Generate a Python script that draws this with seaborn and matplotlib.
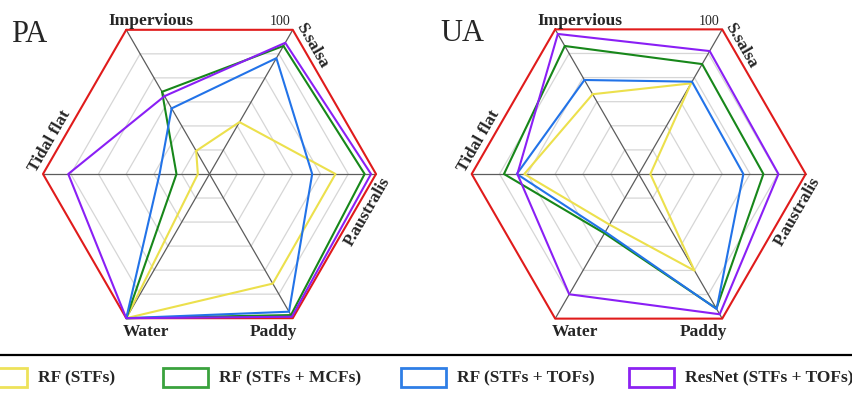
import numpy as np
import pandas as pd
import seaborn as sns
import matplotlib.pyplot as plt
from matplotlib.patches import Rectangle

sns.set_style("white")
plt.rcParams["font.family"] = ["Liberation Serif", "DejaVu Serif"]

# ---- data -------------------------------------------------------------
categories = ["Impervious", "S.salsa", "P.australis", "Paddy", "Water", "Tidal flat"]
series_names = ["RF (STFs)", "RF (STFs + MCFs)", "RF (STFs + TOFs)", "ResNet (STFs + TOFs)"]

# producer's accuracy (%)
pa_rf_stfs = [49.6, 61.6, 85.4, 85.6, 100.0, 44.2]
pa_rf_mcfs = [74.2, 93.3, 95.9, 98.7, 100.0, 51.9]
pa_rf_tofs = [67.3, 88.2, 77.0, 97.3, 100.0, 58.0]
pa_resnet = [72.4, 94.6, 98.2, 99.4, 100.0, 90.9]

# user's accuracy (%)
ua_rf_stfs = [73.1, 77.6, 44.2, 80.1, 61.0, 81.1]
ua_rf_mcfs = [93.1, 85.6, 84.8, 95.8, 64.6, 88.4]
ua_rf_tofs = [79.0, 78.3, 77.6, 96.0, 64.0, 83.8]
ua_resnet = [98.1, 91.0, 90.2, 98.2, 89.9, 83.6]

# ---- styling ----------------------------------------------------------
axis_angles = np.deg2rad([120, 60, 0, -60, -120, 180])
r_min, r_max, n_rings = 40, 100, 6
line_colors = ["#ece04c", "#17871a", "#2273e8", "#8a1ff5"]
legend_colors = ["#eee25a", "#3aa23d", "#2f7ee6", "#8c22f2"]
outer_color = "#e01b1b"

W, H = 853, 394
fig = plt.figure(figsize=(W / 100, H / 100), dpi=100)


def radar_axes(x0, x1, y0, y1, cx, cy, R):
    ax = fig.add_axes([x0 / W, 1 - y1 / H, (x1 - x0) / W, (y1 - y0) / H])
    ax.set_xlim((x0 - cx) / R, (x1 - cx) / R)
    ax.set_ylim((cy - y1) / R, (cy - y0) / R)
    ax.set_axis_off()
    return ax


def closed(a):
    return np.append(a, a[0])


def draw_radar(ax, series, title):
    cos, sin = np.cos(axis_angles), np.sin(axis_angles)
    # inner hexagonal rings
    for k in range(1, n_rings):
        f = k / n_rings
        ax.plot(closed(f * cos), closed(f * sin), color="#d6d6d6", lw=0.9, zorder=1)
    # spokes through the centre
    for t in axis_angles[:3]:
        ax.plot([np.cos(t), -np.cos(t)], [np.sin(t), -np.sin(t)],
                color="#5c5c5c", lw=0.9, zorder=2)
    # outer frame
    ax.plot(closed(cos), closed(sin), color=outer_color, lw=1.5, zorder=3)
    # accuracy polygons
    for vals, color in zip(series, line_colors):
        f = (np.asarray(vals) - r_min) / (r_max - r_min)
        df = pd.DataFrame({"x": closed(f * cos), "y": closed(f * sin)})
        sns.lineplot(data=df, x="x", y="y", sort=False, estimator=None,
                     color=color, lw=1.5, ax=ax, zorder=4)
    ax.set_axis_off()

    bold = dict(fontsize=12.5, fontweight="bold", ha="center", va="center")
    ax.text(-0.35, 0.895, categories[0], fontsize=12.5, fontweight="bold",
            ha="center", va="baseline")
    ax.text(0.485, 0.895, "100", fontsize=10, ha="right", va="baseline")
    ax.text(0.615, 0.77, categories[1], rotation=-60, **bold)
    ax.text(0.948, -0.226, categories[2], rotation=60, **bold)
    ax.text(0.385, -0.946, categories[3], **bold)
    ax.text(-0.383, -0.946, categories[4], **bold)
    ax.text(-0.958, 0.196, categories[5], rotation=60, **bold)
    ax.text(-1.19, 0.84, title, fontsize=22, ha="left", va="center")


ax_pa = radar_axes(0, 426, 0, 350, 209.5, 174, 166.5)
draw_radar(ax_pa, [pa_rf_stfs, pa_rf_mcfs, pa_rf_tofs, pa_resnet], "PA")

ax_ua = radar_axes(426, 853, 0, 350, 638.7, 174, 167)
draw_radar(ax_ua, [ua_rf_stfs, ua_rf_mcfs, ua_rf_tofs, ua_resnet], "UA")

# ---- legend strip -----------------------------------------------------
ax_leg = fig.add_axes([0, 0, 1, 1], zorder=-1)
ax_leg.set_xlim(0, W)
ax_leg.set_ylim(H, 0)
ax_leg.set_axis_off()
ax_leg.plot([0, W], [355, 355], color="black", lw=1.6)
box_x = [-18, 163, 401, 629]
for bx, name, color in zip(box_x, series_names, legend_colors):
    ax_leg.add_patch(Rectangle((bx, 368), 45, 19, fill=False, edgecolor=color, lw=2))
    ax_leg.text(bx + 56, 378, name, fontsize=12.5, fontweight="bold",
                ha="left", va="center")

fig.savefig("out.png", dpi=100)
